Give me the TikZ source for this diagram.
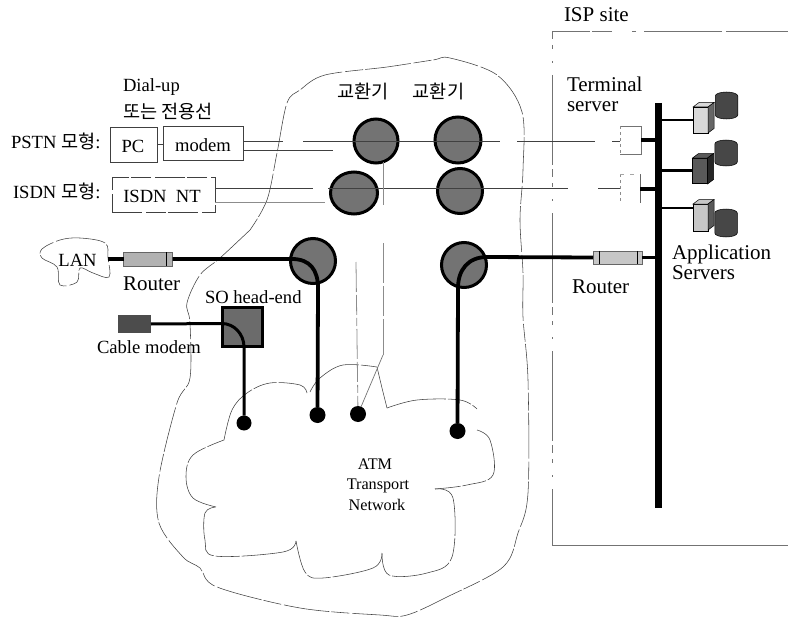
\documentclass[tikz,border=0pt]{standalone}
\usepackage{fontspec}
\setmainfont{Liberation Serif}
\newfontfamily\hf{Noto Sans CJK KR}
\usetikzlibrary{shapes.geometric}
\tikzset{
  txs/.style={inner sep=0,outer sep=0,font=\fontsize{18.6}{20}\selectfont},
  txl/.style={inner sep=0,outer sep=0,font=\fontsize{21}{22}\selectfont},
  txm/.style={inner sep=0,outer sep=0,font=\fontsize{16.2}{17}\selectfont},
  outline/.style={line width=.55pt,draw=black!75,dash pattern=on 46pt off 2pt on 18pt off 3pt,line join=round},
  cloudline/.style={line width=.55pt,draw=black!75,dash pattern=on 60pt off 2pt on 24pt off 2pt,line join=round},
  thin box/.style={line width=.6pt,draw=black!75,inner sep=0,outer sep=0},
  wire/.style={line width=.7pt,draw=black!75},
  fadewire/.style={line width=.8pt,draw=black!45},
  switch/.style={circle,draw=black,line width=3pt,fill=black!55,inner sep=0,outer sep=0,minimum size=44pt},
  heavy/.style={line width=3.8pt,line join=round},
  medium/.style={line width=2.8pt},
  dotnode/.style={circle,fill=black,inner sep=0,outer sep=0,minimum size=16pt},
  routerbox/.style={rectangle,draw=black!60,line width=.5pt,fill=black!30,inner sep=0,outer sep=0,minimum width=49pt,minimum height=13.5pt},
  srv/.style={rectangle,draw=black,line width=.5pt,inner sep=0,outer sep=0,minimum width=15pt},
  db/.style={rectangle,inner sep=0,outer sep=0,minimum width=22.5pt},
  dbbody/.style={draw=black,line width=.5pt,fill=black!72},
}
\begin{document}
\begin{tikzpicture}[x=1pt,y=-1pt]
\useasboundingbox (0,0) rectangle (788,618);

% big access boundary
\draw[outline] plot[smooth,tension=.55] coordinates {(250,230)(220,258)(200,275)(187,303)(190,323)(190,378)(177,403)(159,477)(159,523)(183,557)(200,568)(217,587)(300,608)(380,615)(407,615)(447,597)(503,567)(518,533)(528,493)(528,380)(523,317)(523,273)(520,220)(523,170)(522,112)(497,75)(450,58)(433,60)(387,67)(325,75)(300,90)(287,103)(277,153)(267,200)(250,230)};

% ATM cloud
\draw[cloudline] plot[smooth,tension=.6] coordinates {(224,440)(232,410)(247,393)(270,383)(300,385)(307,393)};
\draw[cloudline] plot[smooth,tension=.6] coordinates {(310,392)(320,378)(343,365)(377,367)};
\draw[cloudline] plot[smooth,tension=.5] coordinates {(377,367)(382,388)(387,408)};
\draw[cloudline] plot[smooth,tension=.6] coordinates {(387,408)(417,400)(460,400)(477,409)};
\draw[cloudline] plot[smooth,tension=.6] coordinates {(477,430)(490,440)(493,475)(467,485)(435,489)};
\draw[cloudline] plot[smooth,tension=.6] coordinates {(435,489)(453,498)(452,557)(427,573)(389,575)(382,553)};
\draw[cloudline] plot[smooth,tension=.6] coordinates {(382,553)(373,568)(323,578)(305,572)(296,541)};
\draw[cloudline] plot[smooth,tension=.6] coordinates {(296,541)(283,552)(215,556)(205,540)(205,513)(216,507)};
\draw[cloudline] plot[smooth,tension=.6] coordinates {(216,507)(193,498)(186,477)(193,455)(224,440)};

% LAN cloud
\draw[outline] plot[smooth cycle,tension=.6] coordinates {(42,249)(60,240)(80,238)(105,243)(108,258)(109,277)(93,273)(80,268)(77,282)(60,285)(57,267)(42,258)};

% ISP site border
\coordinate (ispA) at (788,31);
\coordinate (ispB) at (552,31);
\coordinate (ispC) at (552,545);
\coordinate (ispD) at (788,545);
\draw[line width=.7pt,draw=black!55,dash pattern=on 62pt off 4pt on 78pt off 8pt on 4pt off 20pt on 20pt off 2pt] (ispA) -- (ispB);
\draw[line width=.7pt,draw=black!55,dash pattern=on 8pt off 6pt on 4pt off 12pt on 2pt off 12pt on 90pt off 4pt] (ispB) -- (ispC);
\draw[line width=.7pt,draw=black!55] (ispC) -- (ispD);

% switches
\node[switch] (c1) at (376,141) {};
\node[switch,minimum size=46pt] (c2) at (458,140) {};
\node[ellipse,draw=black,line width=3pt,fill=black!55,inner sep=0,outer sep=0,minimum width=47pt,minimum height=42pt] (c3) at (354,193) {};
\node[switch,minimum size=45pt] (c4) at (460,191) {};
\node[switch,minimum size=45pt] (c5) at (313,261) {};
\node[switch,minimum size=45pt] (c6) at (464,265) {};

% customer boxes
\node[thin box,draw,minimum width=47pt,minimum height=35pt] (pc) at (133.5,144.5) {};
\node[thin box,draw,minimum width=80pt,minimum height=34pt] (modem) at (203,143) {};
\node[thin box,draw,dash pattern=on 30pt off 4pt on 20pt off 2pt,minimum width=103pt,minimum height=35pt] (isdn) at (163.5,194.5) {};
\node[txs,anchor=base] (l_pc) at (133,152) {PC};
\node[txs,anchor=base] (l_modem) at (203,151) {modem};
\node[txs,anchor=base] (l_isdn) at (162,202) {ISDN\hspace{.5em}NT};
\draw[wire] (pc.east) -- (pc.east -| modem.west);

% terminal servers
\node[inner sep=0,outer sep=0,minimum width=21pt,minimum height=28pt] (t1) at (630.5,140) {};
\node[inner sep=0,outer sep=0,minimum width=20pt,minimum height=29pt] (t2) at (630,188.5) {};
\draw[line width=.7pt,draw=black!55] (t1.north west) -- (t1.north east) -- (t1.south east) -- (t1.south west);
\draw[line width=.6pt,draw=black!45,dash pattern=on 3pt off 3pt] (t1.north west) -- (t1.south west);
\draw[line width=.8pt,draw=black!60] (t2.north east) -- (t2.south east);
\draw[line width=.6pt,draw=black!45,dash pattern=on 3pt off 3pt] (t2.north west) -- (t2.south west);
\draw[line width=.6pt,draw=black!35,dash pattern=on 4pt off 6pt] (t2.north west) -- (t2.north east);

% wires through the switches
\draw[wire,dash pattern=on 40pt off 20pt on 197pt off 17pt on 78pt off 17pt on 9pt] (modem.east |- c1) -- (t1.west |- c1);
\coordinate (pe) at (333,150);
\draw[wire] (modem.east |- pe) -- (pe);
\draw[wire,dash pattern=on 98pt off 15pt on 240pt off 30pt on 22pt] (isdn.east |- t2) -- (t2.west);
\coordinate (ie) at (325,202);
\draw[fadewire] (isdn.east |- ie) -- (ie);

% dots
\node[dotnode,minimum size=15pt] (d1) at (244,423) {};
\node[dotnode] (d2) at (317.5,415) {};
\node[dotnode] (d3) at (358,414) {};
\node[dotnode] (d4) at (457.5,431) {};

% broken risers
\coordinate (v1) at (356,262);
\coordinate (v2) at (383,162);
\coordinate (v3) at (383,205);
\coordinate (v4) at (383,243);
\coordinate (v5) at (383,355);
\draw[fadewire] (v2) -- (v3);
\draw[fadewire,dash pattern=on 30pt off 3pt on 20pt off 3pt on 8pt off 3pt] (v1) -- (d3);
\draw[fadewire,dash pattern=on 40pt off 3pt on 30pt off 3pt] (v4) -- (v5);
\draw[wire,draw=black!55] (v5) -- (d3);

% routers and LAN links
\node[routerbox] (rl) at (148,259) {};
\draw[line width=1pt] ([xshift=43pt]rl.north west) -- ([xshift=43pt]rl.south west);
\node[routerbox,fill=black!22] (rr) at (617.5,257.5) {};
\draw[line width=1pt] ([xshift=6pt]rr.north west) -- ([xshift=6pt]rr.south west);
\draw[line width=1pt] ([xshift=-5pt]rr.north east) -- ([xshift=-5pt]rr.south east);

% access head-end
\node[rectangle,draw=black,line width=2.6pt,fill=black!58,inner sep=0,outer sep=0,minimum width=40pt,minimum height=39pt] (so) at (242.5,327) {};
\node[rectangle,fill=black!70,inner sep=0,outer sep=0,minimum width=33pt,minimum height=18pt] (cm) at (134.5,324) {};

% bus
\coordinate (bt) at (658,103);
\coordinate (bb) at (658,508);
\draw[line width=7pt] (bt) -- (bb);

% heavy links
\coordinate (lan) at (108,259);
\draw[heavy] (lan) -- (rl.west);
\draw[heavy] (rl.east) -- (292,259) .. controls (310,259) and (318,270) .. (318,288) -- (d2);
\draw[heavy] (d4) -- (458,288) .. controls (458,270) and (468,257) .. (487,257) -- (rr.west);
\draw[heavy] (rr.east) -- (bt |- rr.east);
\draw[heavy,line width=3pt] (cm.east) -- (222,323.5) .. controls (234,323.5) and (244,334) .. (244,347) -- (d1);

% terminal links
\draw[line width=4pt] (t1.east) -- (bt |- t1.east);
\draw[line width=4pt] (t2.east) -- (bt |- t2.east);

% servers
\node[srv,fill=black!15,minimum height=26pt] (s1) at (700.5,120) {};
\node[srv,fill=black!65,minimum height=25pt] (s2) at (700,170.5) {};
\node[srv,fill=black!22,minimum height=27pt] (s3) at (700.5,217.5) {};
\foreach \s/\c/\d in {s1/black!15/black!60,s2/black!65/black!85,s3/black!22/black!65}{
  \draw[line width=.5pt,fill=\c] (\s.north west) -- ++(6,-4.5) -- ++(15,0) -- ++(-6,4.5) -- cycle;
  \draw[line width=.5pt,fill=\d] (\s.north east) -- ++(6,-4.5) -- ++(0,26) -- ++(-6,4.5) -- cycle;
}
\node[db,minimum height=27pt] (b1) at (726.5,105.5) {};
\node[db,minimum height=26pt] (b2) at (726,153) {};
\node[db,minimum height=28pt] (b3) at (726,223) {};
\foreach \b in {b1,b2,b3}{
  \draw[dbbody] ([yshift=-4pt]\b.north west) arc[start angle=180,end angle=0,x radius=11.25pt,y radius=4pt]
     -- ([yshift=4pt]\b.south east) arc[start angle=0,end angle=-180,x radius=11.25pt,y radius=4pt] -- cycle;
}
\draw[medium] (bt |- s1.west) -- (s1.west);
\draw[medium] (bt |- s2.west) -- (s2.west);
\coordinate (s3b) at (s3.west |- 0,208);
\draw[medium] (bt |- s3b) -- (s3b);

% texts
\node[txs,anchor=base west] (t_dial) at (123,92) {Dial-up};
\node[txs,anchor=base west] (t_only) at (123,119) {\hf 또는 전용선};
\node[txs,anchor=base west] (t_pstn) at (11,148) {PSTN {\hf 모형}:};
\node[txs,anchor=base west] (t_isdn) at (13,198) {ISDN {\hf 모형}:};
\node[txs,anchor=base] (t_lan) at (77.5,266) {LAN};
\node[txl,anchor=base west] (t_rl) at (123,290) {Router};
\node[txs,anchor=base west] (t_so) at (205,303) {SO head-end};
\node[txs,anchor=base west] (t_cm) at (97,353) {Cable modem};
\node[txs,anchor=base] (t_k1) at (363,99) {\hf 교환기};
\node[txs,anchor=base] (t_k2) at (438.5,99) {\hf 교환기};
\node[txl,anchor=base west] (t_ts1) at (567,92) {Terminal};
\node[txl,anchor=base west] (t_ts2) at (567,111) {server};
\node[txl,anchor=base west] (t_isp) at (564,22) {ISP site};
\node[txl,anchor=base west] (t_app1) at (672,259) {Application};
\node[txl,anchor=base west] (t_app2) at (672,279) {Servers};
\node[txl,anchor=base west] (t_rr) at (572,293) {Router};
\node[txm,anchor=base] (t_atm) at (375,469) {ATM};
\node[txm,anchor=base] (t_tr) at (378,489) {Transport};
\node[txm,anchor=base] (t_nw) at (377,510) {Network};
\end{tikzpicture}
\end{document}
